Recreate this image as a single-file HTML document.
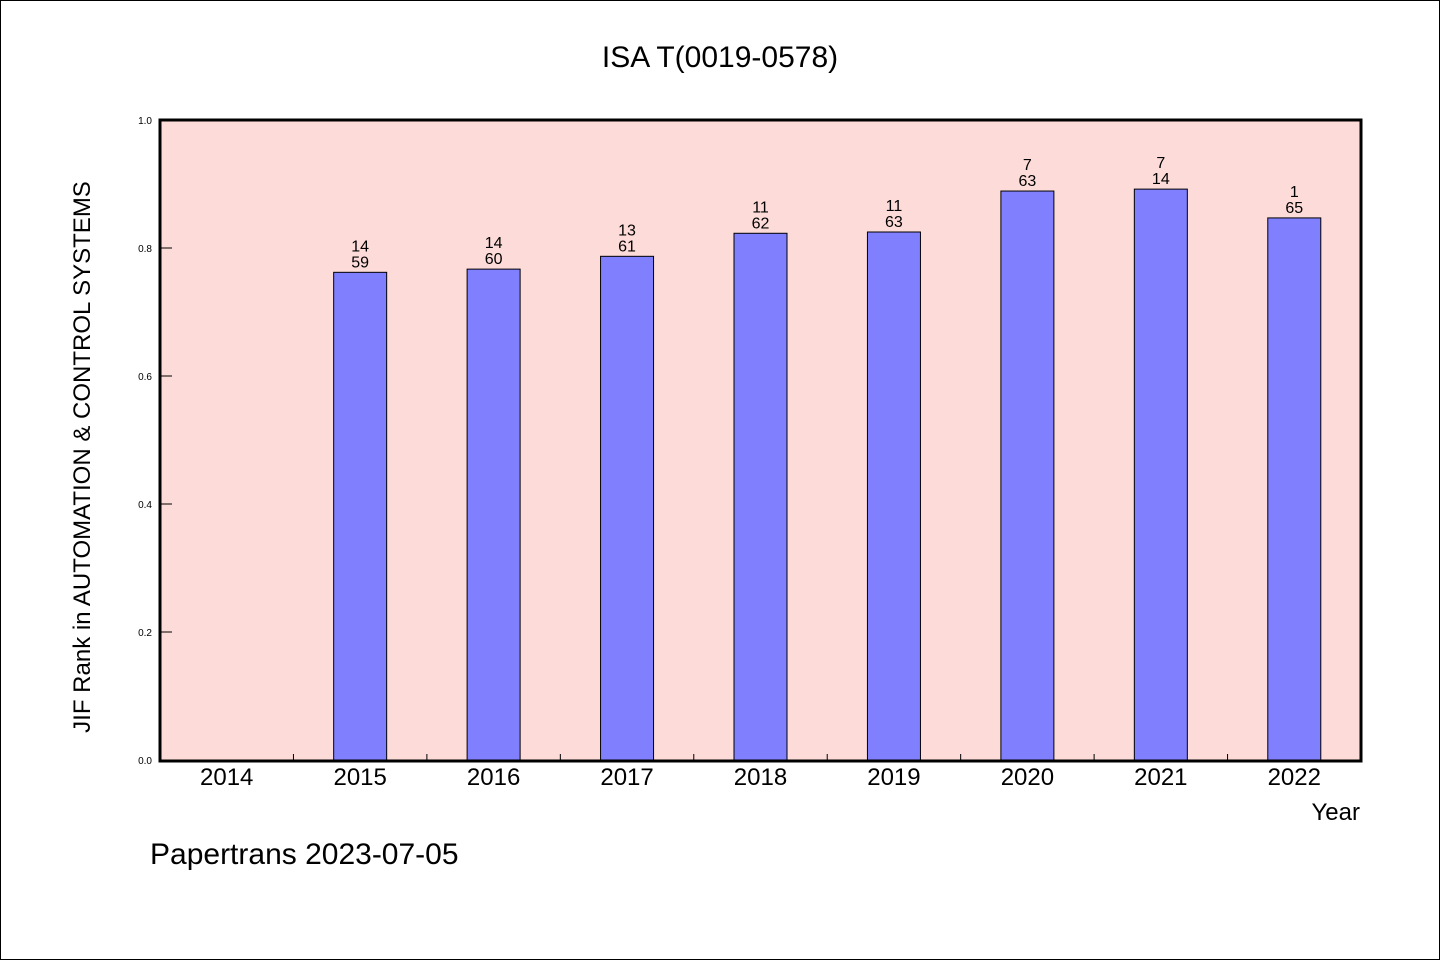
<!DOCTYPE html>
<html><head><meta charset="utf-8"><style>
html,body{margin:0;padding:0;background:#fff}
svg{display:block}
text{font-family:"Liberation Sans","WenQuanYi Zen Hei",sans-serif;fill:#000}
</style></head><body>
<svg id="c" width="1440" height="960" viewBox="0 0 1440 960" xmlns="http://www.w3.org/2000/svg">
<rect x="0.5" y="0.5" width="1439" height="959" fill="#fff" stroke="#000"/>
<text x="720" y="67" font-size="30" text-anchor="middle" font-family="WenQuanYi Zen Hei">ISA T(0019-0578)</text>
<rect x="160" y="120" width="1201" height="641" fill="#fddbd8"/>
<g id="marks"></g>
<rect x="160" y="120" width="1201" height="641" fill="none" stroke="#000" stroke-width="3"/>
<text transform="translate(90,457) rotate(-90)" font-size="24" text-anchor="middle" font-family="WenQuanYi Zen Hei">JIF Rank in AUTOMATION &amp; CONTROL SYSTEMS</text>
<text x="1360" y="820" font-size="24" text-anchor="end" font-family="WenQuanYi Zen Hei">Year</text>
<text x="150" y="864" font-size="30" font-family="WenQuanYi Zen Hei">Papertrans 2023-07-05</text>
</svg>
<script>
const categories = ["2014","2015","2016","2017","2018","2019","2020","2021","2022"];
const values = [null,0.762,0.767,0.787,0.823,0.825,0.889,0.892,0.847];
const rankLabels = [null,"14","14","13","11","11","7","7","1"];
const totalLabels = [null,"59","60","61","62","63","63","14","65"];
const yTicks = [0,0.2,0.4,0.6,0.8,1.0];
const yTickLabels = ["0.0","0.2","0.4","0.6","0.8","1.0"];

const X0=160,X1=1361,Y0=760,Y1=120;
const bw=(X1-X0)/categories.length;
const xs=i=>X0+bw*(i+0.5);
const ys=v=>Y0-(Y0-Y1)*v;
const NS="http://www.w3.org/2000/svg";
const g=document.getElementById('marks');
function mk(tag,attrs){const e=document.createElementNS(NS,tag);for(const k in attrs)e.setAttribute(k,attrs[k]);g.appendChild(e);return e;}

yTicks.forEach((t,i)=>{
  const l=mk('line',{x1:X0,x2:X0+12,y1:ys(t),y2:ys(t),stroke:'#000','stroke-width':1});
  
  
  const tx=mk('text',{x:X0-8,y:ys(t)+4,'font-size':10,'text-anchor':'end'});
  tx.textContent=yTickLabels[i];
  
  
});
categories.forEach((c,i)=>{
  if(i>0){
    const l=mk('line',{x1:X0+bw*i,x2:X0+bw*i,y1:Y0,y2:Y0-6,stroke:'#000','stroke-width':1});
    
    
  }
  const tx=mk('text',{x:xs(i),y:785,'font-size':24,'text-anchor':'middle','font-family':'WenQuanYi Zen Hei'});
  tx.textContent=c;
  
  
  const v=values[i];
  if(v==null)return;
  const r=mk('rect',{x:xs(i)-26.5,y:ys(v),width:53,height:Y0-ys(v),fill:'#8080ff',stroke:'#000','stroke-width':1});
  
  
  const t1=mk('text',{x:xs(i),y:ys(v)-21,'font-size':16,'text-anchor':'middle','font-family':'WenQuanYi Zen Hei'});
  t1.textContent=rankLabels[i];
  
  
  const t2=mk('text',{x:xs(i),y:ys(v)-5,'font-size':16,'text-anchor':'middle','font-family':'WenQuanYi Zen Hei'});
  t2.textContent=totalLabels[i];
  
  
});
</script>
</body></html>
